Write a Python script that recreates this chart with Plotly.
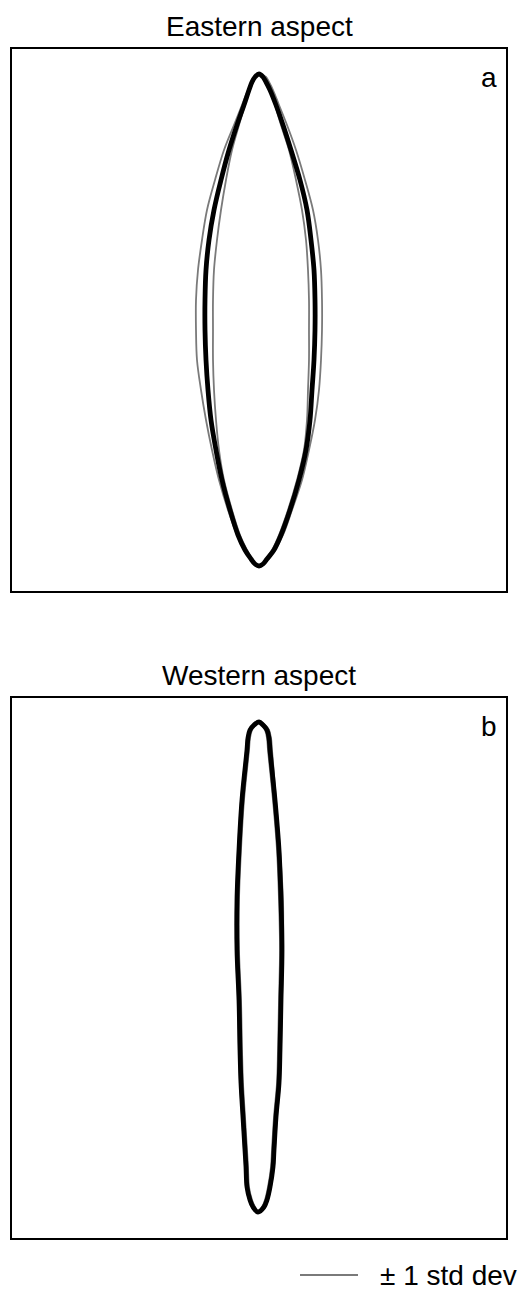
import plotly.graph_objects as go

# ---- outline data (panel units, origin at panel centre) ----
# Eastern aspect: levels from top tip to bottom tip
east_y = [246, 243, 238, 230, 215, 195, 170, 140, 110, 80, 50, 20,
          -10, -40, -70, -100, -130, -160, -190, -215, -230, -239, -244, -246]
east_mean_left = [0, -4, -7, -10, -15, -22, -30, -38, -45, -50, -53, -54,
                  -54, -53, -51, -48, -43, -37, -29, -21, -14, -8, -4, 0]
east_mean_right = [0, 4, 7, 11, 17, 24, 32, 41, 48, 52, 55, 56,
                   56, 55, 53, 51, 47, 40, 31, 22, 15, 8, 4, 0]
east_plus_left = [1, -3, -7, -11, -17, -25, -35, -44, -52, -57, -61, -63,
                  -63, -62, -58, -53, -47, -40, -31, -22, -15, -9, -4, 0]
east_plus_right = [2, 7, 10, 14, 20, 28, 37, 46, 54, 59, 62, 63,
                   63, 62, 60, 56, 50, 43, 33, 24, 16, 9, 5, 0]
east_minus_left = [1, -3, -6, -9, -14, -20, -27, -33, -38, -42, -45, -46,
                   -46, -46, -45, -43, -40, -35, -27, -19, -12, -7, -3, 0]
east_minus_right = [1, 5, 8, 11, 16, 22, 30, 37, 43, 47, 49, 50,
                    50, 50, 49, 48, 45, 38, 29, 20, 13, 7, 4, 0]

# Western aspect
west_y = [246, 243, 238, 230, 218, 168, 118, 68, 18, -32, -82,
          -115, -149, -182, -199, -219, -232, -239, -244]
west_mean_left = [0, -5, -9, -11, -12, -17, -20, -22, -22, -20, -19,
                  -18, -16, -14, -13, -12, -9, -6, -1]
west_mean_right = [0, 4, 8, 10, 11, 16, 20, 22, 23, 22, 21,
                   20, 17, 15, 14, 11, 8, 5, -1]
west_plus_left = [1, -5, -10, -12, -13, -18, -21, -23, -23, -21, -20,
                  -19, -17, -15, -14, -13, -10, -7, -1]
west_plus_right = [1, 6, 10, 12, 13, 17, 21, 24, 24, 23, 22,
                   21, 18, 16, 15, 12, 9, 6, -1]
west_minus_left = [0, -3, -7, -9, -10, -15, -18, -20, -20, -18, -17,
                   -16, -14, -12, -11, -10, -7, -4, -1]
west_minus_right = [0, 3, 6, 8, 9, 14, 18, 20, 21, 20, 19,
                    18, 15, 13, 12, 9, 6, 3, -1]

panel_titles = ["Eastern aspect", "Western aspect"]
panel_labels = ["a", "b"]
legend_text = "\u00b1 1 std dev"

# page body keeps its 8px margin, so the figure is 8px smaller than the window
W, H = 522, 1281
FONT = "Liberation Sans, Arial, sans-serif"
GRAY = "#7a7a7a"


def outline(left, right, levels):
    # down the left side, back up the right side -> closed loop
    xs = list(left) + list(right[::-1][1:])
    ys = list(levels) + list(levels[::-1][1:])
    return xs, ys


fig = go.Figure()

panels = [
    ("x", "y", east_y, [(east_plus_left, east_plus_right), (east_minus_left, east_minus_right)],
     (east_mean_left, east_mean_right)),
    ("x2", "y2", west_y, [(west_plus_left, west_plus_right), (west_minus_left, west_minus_right)],
     (west_mean_left, west_mean_right)),
]

for xa, ya, levels, std_lines, mean_line in panels:
    for left, right in std_lines:
        xs, ys = outline(left, right, levels)
        fig.add_trace(go.Scatter(x=xs, y=ys, mode="lines", xaxis=xa, yaxis=ya,
                                 line=dict(color=GRAY, width=1.8, shape="spline"),
                                 showlegend=False, hoverinfo="skip"))
    xs, ys = outline(mean_line[0], mean_line[1], levels)
    fig.add_trace(go.Scatter(x=xs, y=ys, mode="lines", xaxis=xa, yaxis=ya,
                             line=dict(color="black", width=4.8, shape="spline"),
                             showlegend=False, hoverinfo="skip"))

# ---- axes / frames ----
x_dom = [4 / W, 498 / W]
frame = dict(showline=True, mirror=True, linecolor="black", linewidth=1.5,
             showticklabels=False, ticks="", showgrid=False, zeroline=False,
             fixedrange=True)

fig.update_layout(
    width=W, height=H,
    paper_bgcolor="white", plot_bgcolor="white",
    margin=dict(l=0, r=0, t=0, b=0),
    showlegend=False,
    xaxis=dict(domain=x_dom, range=[-247, 247], anchor="y", **frame),
    yaxis=dict(domain=[1 - 583 / H, 1 - 41 / H], range=[-271, 271], anchor="x", **frame),
    xaxis2=dict(domain=x_dom, range=[-247, 247], anchor="y2", **frame),
    yaxis2=dict(domain=[1 - 1230 / H, 1 - 690 / H], range=[-270, 270], anchor="x2", **frame),
    font=dict(family=FONT, color="black"),
)

for i, (xa, ya) in enumerate([("x", "y"), ("x2", "y2")]):
    fig.add_annotation(text=panel_titles[i], xref=xa + " domain", yref=ya + " domain",
                       x=0.5, y=1, xanchor="center", yanchor="bottom", yshift=5,
                       showarrow=False, font=dict(size=28, family=FONT))
    fig.add_annotation(text=panel_labels[i], xref=xa + " domain", yref=ya + " domain",
                       x=1, y=1, xanchor="right", yanchor="top", xshift=-7, yshift=-11,
                       showarrow=False, font=dict(size=28, family=FONT))

# ---- legend, drawn by hand so the sample line matches ----
ly = 1 - 1267 / H
fig.add_shape(type="line", xref="paper", yref="paper",
              x0=292 / W, x1=350 / W, y0=ly, y1=ly,
              line=dict(color=GRAY, width=1.8))
fig.add_annotation(text=legend_text, xref="paper", yref="paper",
                   x=370 / W, y=ly, xanchor="left", yanchor="middle",
                   showarrow=False, font=dict(size=28, family=FONT))

fig.write_html("out.html")
